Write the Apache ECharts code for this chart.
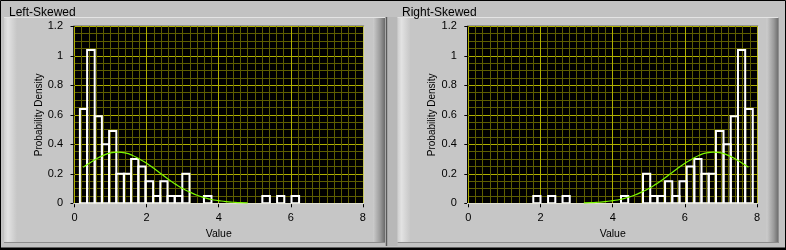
<!DOCTYPE html>
<html>
<head>
<meta charset="utf-8">
<script src="https://cdn.jsdelivr.net/npm/echarts@6/dist/echarts.min.js"></script>
<style>
html,body{margin:0;padding:0;background:#c2c2c2;}
#chart{width:786px;height:250px;}
</style>
</head>
<body>
<div id="chart"></div>
<script>
// ---- data ----
const panelTitles = ['Left-Skewed', 'Right-Skewed'];
const xAxisName = 'Value';
const yAxisName = 'Probability Density';

const leftEdges = [0.15,0.35,0.56,0.76,0.96,1.16,1.37,1.57,1.77,1.97,2.18,2.38,2.58,2.78,2.99,3.19,3.39,3.59,3.80,4.00,4.20,4.40,4.61,4.81,5.01,5.21,5.42,5.62,5.82,6.02,6.23];
const leftDensity = [0.64,1.04,0.59,0.40,0.49,0.20,0.20,0.30,0.25,0.15,0.05,0.15,0.05,0.05,0.20,0,0,0.05,0,0,0,0,0,0,0,0.05,0,0.05,0,0.05];

const rightEdges = [1.80,2.00,2.21,2.41,2.61,2.81,3.02,3.22,3.42,3.62,3.83,4.03,4.23,4.43,4.64,4.84,5.04,5.24,5.45,5.65,5.85,6.05,6.26,6.46,6.66,6.86,7.07,7.27,7.47,7.67,7.88];
const rightDensity = [0.05,0,0.05,0,0.05,0,0,0,0,0,0,0,0.05,0,0,0.20,0.05,0.05,0.15,0.05,0.15,0.25,0.30,0.20,0.20,0.49,0.40,0.59,1.04,0.64];

const leftCurveX = [0.24,0.4,0.6,0.8,1.0,1.2,1.4,1.6,1.8,2.0,2.2,2.4,2.6,2.8,3.0,3.2,3.4,3.6,3.8,4.0,4.2,4.4,4.6,4.8];
const leftCurveY = [0.245,0.27,0.30,0.325,0.342,0.347,0.342,0.326,0.30,0.272,0.237,0.20,0.163,0.13,0.10,0.076,0.055,0.039,0.026,0.018,0.011,0.007,0.004,0.003];

const rightCurveX = [3.2,3.4,3.6,3.8,4.0,4.2,4.4,4.6,4.8,5.0,5.2,5.4,5.6,5.8,6.0,6.2,6.4,6.6,6.8,7.0,7.2,7.4,7.6,7.76];
const rightCurveY = [0.003,0.004,0.007,0.011,0.018,0.026,0.039,0.055,0.076,0.10,0.13,0.163,0.20,0.237,0.272,0.30,0.326,0.342,0.347,0.342,0.325,0.30,0.27,0.245];

// ---- chart ----
const FONT = '"Liberation Sans", Arial, sans-serif';
const chart = echarts.init(document.getElementById('chart'), null, {renderer: 'canvas'});

const grids = [
  {left: 74.5, top: 26.3, width: 288.4, height: 177},
  {left: 468.3, top: 26.3, width: 288.8, height: 177}
];
const panelX = [4, 397.6];
const PANEL_W = 381;

function histItem(params, api) {
  const v = api.value(2);
  if (!v) return {type: 'group', children: []};
  const p0 = api.coord([api.value(0), v]);
  const p1 = api.coord([api.value(1), 0]);
  return {
    type: 'rect',
    shape: {x: p0[0], y: p0[1], width: p1[0] - p0[0], height: p1[1] - p0[1]},
    style: {fill: 'none', stroke: '#ffffff', lineWidth: 2}
  };
}

function makeX(i) {
  return {
    gridIndex: i, type: 'value', min: 0, max: 8, interval: 2, offset: 3,
    axisLine: {show: false},
    axisTick: {show: true, length: 4, lineStyle: {color: '#000', width: 1}},
    axisLabel: {margin: 6, color: '#000', fontSize: 11, fontFamily: FONT},
    splitLine: {show: true, lineStyle: {color: '#b0b000', width: 1}},
    minorTick: {show: false, splitNumber: 10},
    minorSplitLine: {show: true, lineStyle: {color: '#5e5e00', width: 1}},
    name: xAxisName, nameLocation: 'middle', nameGap: 20,
    nameTextStyle: {color: '#000', fontSize: 10.5, fontFamily: FONT}
  };
}
function makeY(i) {
  return {
    gridIndex: i, type: 'value', min: 0, max: 1.2, interval: 0.2, offset: 3.5,
    axisLine: {show: false},
    axisTick: {show: true, length: 4, lineStyle: {color: '#000', width: 1}},
    axisLabel: {margin: 8, color: '#000', fontSize: 11, fontFamily: FONT},
    splitLine: {show: true, lineStyle: {color: '#b0b000', width: 1}},
    minorTick: {show: false, splitNumber: 4},
    minorSplitLine: {show: true, lineStyle: {color: '#5e5e00', width: 1}},
    name: yAxisName, nameLocation: 'middle', nameGap: 26,
    nameTextStyle: {color: '#000', fontSize: 10, fontFamily: FONT}
  };
}

// decorative panel frames
const graphics = [];
graphics.push({type: 'rect', z: -20, shape: {x: 0.5, y: 0.5, width: 785, height: 248}, style: {fill: '#c2c2c2', stroke: '#000', lineWidth: 1}});
graphics.push({type: 'rect', z: -19, shape: {x: 0, y: 247.5, width: 786, height: 2.5}, style: {fill: '#000'}});
panelX.forEach(function (px, i) {
  graphics.push({type: 'rect', z: -15, shape: {x: px, y: 17, width: PANEL_W, height: 226}, style: {fill: '#c6c6c6'}});
  graphics.push({type: 'rect', z: -14, shape: {x: px, y: 17, width: 13, height: 226},
    style: {fill: new echarts.graphic.LinearGradient(0, 0, 1, 0, [
      {offset: 0, color: '#cfcfcf'}, {offset: 0.3, color: '#e2e2e2'}, {offset: 1, color: '#c6c6c6'}])}});
  graphics.push({type: 'rect', z: -14, shape: {x: px + PANEL_W - 12, y: 17, width: 12, height: 226},
    style: {fill: new echarts.graphic.LinearGradient(0, 0, 1, 0, [
      {offset: 0, color: '#cdcdcd'}, {offset: 0.6, color: '#9a9a9a'}, {offset: 1, color: '#6a6a6a'}])}});
  graphics.push({type: 'line', z: -13, shape: {x1: px, y1: 17.5, x2: px + PANEL_W, y2: 17.5}, style: {stroke: '#e4e4e4', lineWidth: 1}});
  graphics.push({type: 'line', z: -13, shape: {x1: px, y1: 242.5, x2: px + PANEL_W, y2: 242.5}, style: {stroke: '#8c8c8c', lineWidth: 1}});
  const g = grids[i];
  graphics.push({type: 'rect', z: -5, shape: {x: g.left - 1.3, y: g.top - 0.5, width: g.width + 2.6, height: g.height + 1}, style: {fill: '#000'}});
  graphics.push({type: 'polyline', z: 1, shape: {points: [[g.left - 1.3, g.top + g.height + 0.3], [g.left + g.width + 1.2, g.top + g.height + 0.3], [g.left + g.width + 1.2, g.top - 0.5]]},
    style: {stroke: '#e6e6e6', lineWidth: 1, fill: 'none'}});
});
graphics.push({type: 'line', z: -12, shape: {x1: 386.5, y1: 17, x2: 386.5, y2: 246}, style: {stroke: '#5a5a5a', lineWidth: 1.5}});
graphics.push({type: 'rect', z: -16, shape: {x: 387.5, y: 17, width: 10, height: 229}, style: {fill: '#b8b8b8'}});

const option = {
  backgroundColor: '#c2c2c2',
  animation: false,
  title: [
    {text: panelTitles[0], left: 4, top: 2, textStyle: {fontSize: 12, fontWeight: 'normal', color: '#000', fontFamily: FONT}},
    {text: panelTitles[1], left: 397, top: 2, textStyle: {fontSize: 12, fontWeight: 'normal', color: '#000', fontFamily: FONT}}
  ],
  graphic: {elements: graphics},
  grid: grids.map(function (g) { return Object.assign({containLabel: false, show: false}, g); }),
  xAxis: [makeX(0), makeX(1)],
  yAxis: [makeY(0), makeY(1)],
  series: [
    {type: 'custom', xAxisIndex: 0, yAxisIndex: 0, renderItem: histItem, encode: {x: [0, 1], y: 2}, clip: true,
     data: leftDensity.map(function (v, i) { return [leftEdges[i], leftEdges[i + 1], v]; })},
    {type: 'custom', xAxisIndex: 1, yAxisIndex: 1, renderItem: histItem, encode: {x: [0, 1], y: 2}, clip: true,
     data: rightDensity.map(function (v, i) { return [rightEdges[i], rightEdges[i + 1], v]; })},
    {type: 'line', xAxisIndex: 0, yAxisIndex: 0, smooth: true, showSymbol: false, z: 5,
     lineStyle: {color: '#7cf800', width: 1.2},
     data: leftCurveX.map(function (x, i) { return [x, leftCurveY[i]]; })},
    {type: 'line', xAxisIndex: 1, yAxisIndex: 1, smooth: true, showSymbol: false, z: 5,
     lineStyle: {color: '#7cf800', width: 1.2},
     data: rightCurveX.map(function (x, i) { return [x, rightCurveY[i]]; })}
  ]
};
chart.setOption(option);
</script>
</body>
</html>
